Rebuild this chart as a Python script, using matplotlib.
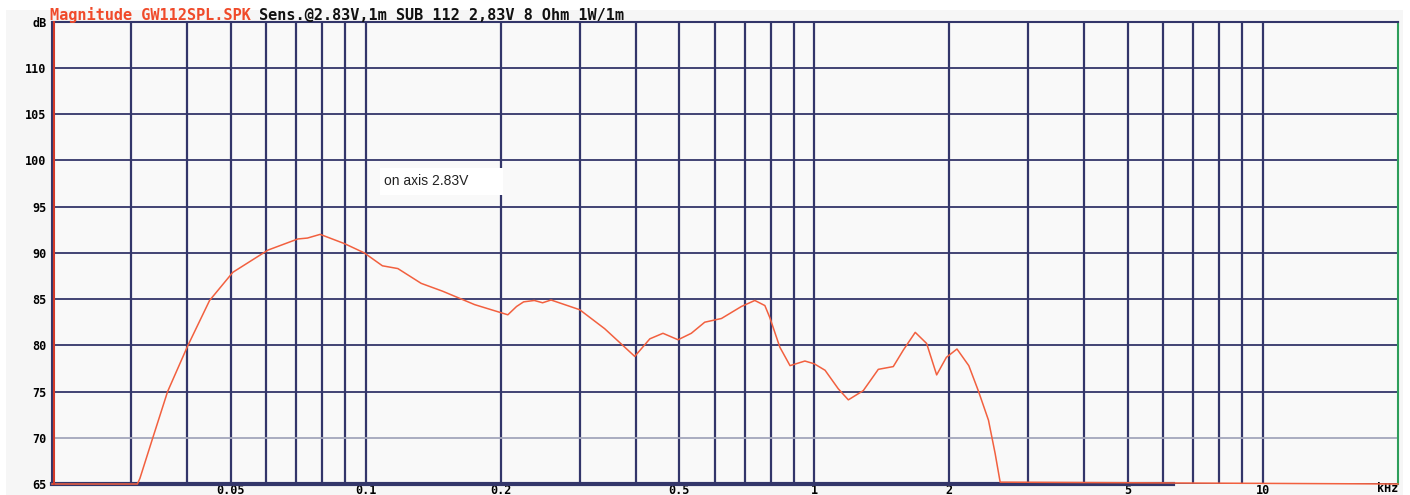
import matplotlib
matplotlib.use('Agg')
import matplotlib.pyplot as plt
from matplotlib.patches import Rectangle
from matplotlib.lines import Line2D

# Respuesta en frecuencia (kHz, dB)
freq_khz = [0.020, 0.031, 0.0314, 0.0335, 0.0362, 0.0401, 0.0449, 0.0506, 0.0606,
            0.0706, 0.0742, 0.0792, 0.0897, 0.0993, 0.109, 0.118, 0.133, 0.1485,
            0.175, 0.2075, 0.217, 0.225, 0.2377, 0.248, 0.259, 0.300, 0.341, 0.398,
            0.430, 0.460, 0.497, 0.532, 0.570, 0.621, 0.688, 0.737, 0.776, 0.796,
            0.838, 0.883, 0.953, 1.0, 1.057, 1.131, 1.191, 1.286, 1.389, 1.50, 1.58,
            1.679, 1.78, 1.874, 1.97, 2.08, 2.21, 2.32, 2.445, 2.53, 2.596, 20.0]
spl_db = [65, 65, 65.6, 69.9, 75.0, 79.9, 84.85, 87.9, 90.3,
          91.5, 91.6, 92.0, 91.0, 90.0, 88.6, 88.3, 86.7, 85.85,
          84.4, 83.3, 84.2, 84.7, 84.85, 84.6, 84.9, 83.85, 81.8, 78.8,
          80.7, 81.3, 80.6, 81.3, 82.5, 82.9, 84.2, 84.85, 84.3, 83.0,
          79.8, 77.8, 78.3, 78.0, 77.3, 75.3, 74.1, 75.1, 77.4, 77.7, 79.5,
          81.4, 80.2, 76.8, 78.7, 79.6, 77.8, 75.1, 71.9, 68.3, 65.2, 65]

x_major = [0.05, 0.1, 0.2, 0.5, 1, 2, 5, 10]
x_major_labels = ['0.05', '0.1', '0.2', '0.5', '1', '2', '5', '10']
x_minor = [0.03, 0.04, 0.06, 0.07, 0.08, 0.09, 0.3, 0.4, 0.6, 0.7, 0.8, 0.9,
           3, 4, 6, 7, 8, 9]
y_ticks = [65, 70, 75, 80, 85, 90, 95, 100, 105, 110, 115]
y_labels = ['65', '70', '75', '80', '85', '90', '95', '100', '105', '110', 'dB']

titulo_rojo = 'Magnitude GW112SPL.SPK'
titulo_negro = 'Sens.@2.83V,1m SUB 112 2,83V 8 Ohm 1W/1m'

navy = '#33366a'
rojo = '#f2603f'
mono = 'DejaVu Sans Mono'

fig = plt.figure(figsize=(14.1, 4.95), dpi=100, facecolor='white')
fig.patches.append(Rectangle((6/1410, 0), 1397/1410, 485/495, transform=fig.transFigure,
                             facecolor='#f6f6f6', edgecolor='none', zorder=-10))
ax = fig.add_axes([52/1410, 11/495, 1346/1410, 462.3/495])
ax.set_facecolor('#f9f9f9')

ax.set_xscale('log')
ax.set_xlim(0.02, 20)
ax.set_ylim(65, 115)

# Grilla
ax.set_xticks(x_major)
ax.set_xticklabels(x_major_labels)
ax.set_xticks(x_minor, minor=True)
ax.set_xticklabels([], minor=True)
ax.set_yticks(y_ticks)
ax.set_yticklabels(y_labels)
ax.grid(True, which='both', axis='x', color=navy, lw=1.6, zorder=1)
ax.grid(True, axis='y', color=navy, lw=1.3, zorder=1)
ax.yaxis.get_gridlines()[1].set_color('#a3a6bb')
ax.set_axisbelow(True)
ax.tick_params(which='both', length=0)
ax.tick_params(axis='x', pad=0)
ax.tick_params(axis='y', pad=4)
for lab in ax.get_xticklabels() + ax.get_yticklabels():
    lab.set_fontfamily(mono)
    lab.set_fontweight('bold')
    lab.set_fontsize(8.5)
ax.text(1.0, -0.010, 'kHz', transform=ax.transAxes, ha='right', va='center',
        fontfamily=mono, fontweight='bold', fontsize=8.5)

# Bordes
ax.spines['top'].set_color(navy)
ax.spines['top'].set_linewidth(1.5)
ax.spines['left'].set_color(navy)
ax.spines['left'].set_linewidth(1.5)
ax.spines['right'].set_color('#2e9e5b')
ax.spines['right'].set_linewidth(1.5)
ax.spines['bottom'].set_color(navy)
ax.spines['bottom'].set_linewidth(3)
ax.spines['bottom'].set_bounds(0.02, 6.3)
ax.add_line(Line2D([0.0012, 0.0012], [0, 1], transform=ax.transAxes, color='#d23a2a',
                   lw=1.5, clip_on=False, zorder=5))

# Curva
ax.plot(freq_khz, spl_db, color=rojo, lw=1.1, zorder=4, clip_on=False)

# Caja de texto
ax.add_patch(Rectangle((0.2437, 0.625), 0.0913, 0.0585, transform=ax.transAxes,
                       facecolor='white', edgecolor='none', zorder=3))
ax.text(0.2467, 0.6554, 'on axis 2.83V', transform=ax.transAxes, ha='left', va='center',
        fontfamily='Liberation Sans', fontsize=10, color='#222222', zorder=4)

# Titulo
t_rojo = fig.text(50/1410, 1 - 15/495, titulo_rojo, ha='left', va='center', color='#f04a2a',
                  fontfamily=mono, fontweight='bold', fontsize=11)
fig.text(0, 0, titulo_negro, ha='left', va='center', color='#111111',
         fontfamily=mono, fontweight='bold', fontsize=11)
fig.texts[-1].remove()
ax.annotate(titulo_negro, xy=(1, 0.5), xycoords=t_rojo, xytext=(6, 0),
            textcoords='offset points', ha='left', va='center', color='#111111',
            fontfamily=mono, fontweight='bold', fontsize=11, annotation_clip=False)

plt.savefig('out.png', dpi=100, facecolor='white')
